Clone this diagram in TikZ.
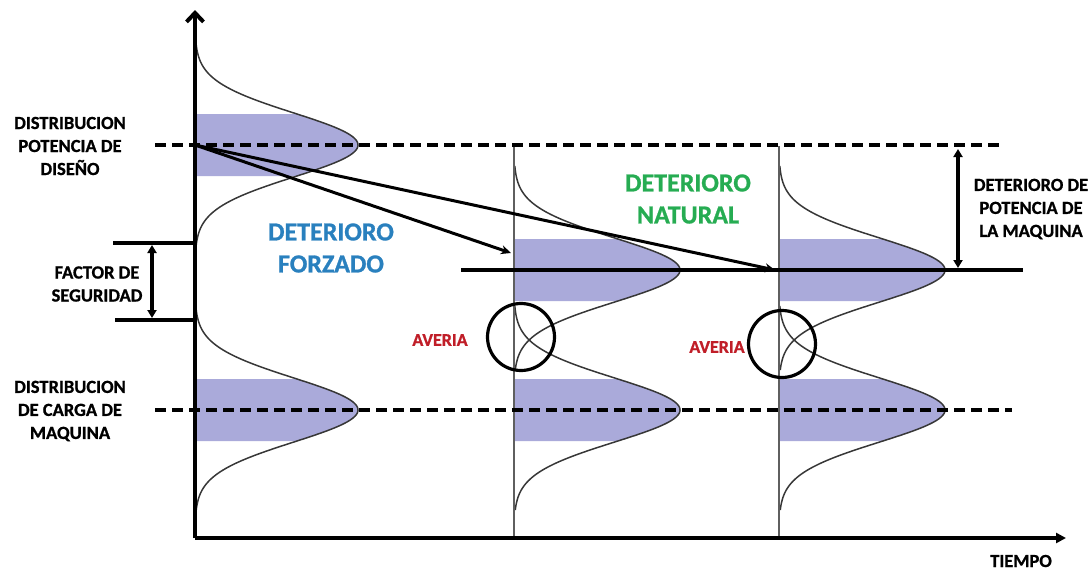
\documentclass[tikz,border=0pt]{standalone}
\usepackage{fontspec}
\setmainfont{Carlito}[BoldFont={Carlito Bold},BoldFeatures={FakeBold=1}]
\usetikzlibrary{arrows.meta}

\definecolor{bandfill}{RGB}{170,170,218}
\definecolor{curveline}{RGB}{55,55,55}
\definecolor{axisgray}{RGB}{95,95,95}
\definecolor{forcedblue}{RGB}{41,128,190}
\definecolor{naturalgreen}{RGB}{38,172,82}
\definecolor{failred}{RGB}{192,30,40}

% bell curve standing on a vertical time axis:
% #1 = x of the axis, #2 = y of the mean, #3 = height of the peak
\newcommand\bellcurve[3]{%
  \fill[bandfill] (#1,#2-31)
    -- plot[domain=-31:31,samples=50] ({#1+#3*exp(-((\x)*(\x))/2048)},{#2+(\x)})
    -- (#1,#2+31) -- cycle;
  \draw[curve] plot[domain=-104:100,samples=140] ({#1+#3*exp(-((\x)*(\x))/2048)},{#2+(\x)});
}

\begin{document}
\begin{tikzpicture}[x=1pt,y=-1pt,
  curve/.style={curveline,line width=1.5pt},
  mainaxis/.style={black,line width=4pt},
  timeaxis/.style={axisgray,line width=1.4pt},
  meanline/.style={black,line width=3.2pt,dash pattern=on 11pt off 6pt},
  refline/.style={black,line width=3.2pt},
  dimarrow/.style={black,line width=3.2pt,{Triangle[length=8pt,width=9pt]}-{Triangle[length=8pt,width=9pt]}},
  driftarrow/.style={black,line width=3pt,-{Stealth[length=10pt,width=9pt]}},
  failcircle/.style={draw=black,line width=3.2pt,circle,minimum size=67pt,inner sep=0pt},
  caption/.style={font=\fontsize{18.5}{23}\selectfont\bfseries,align=center,text=black,inner sep=0pt},
  bigcaption/.style={font=\fontsize{26}{32}\selectfont\bfseries,align=center,inner sep=0pt},
  failcaption/.style={font=\fontsize{18}{22}\selectfont\bfseries,text=failred,inner sep=0pt}
]
\useasboundingbox (0,0) rectangle (1092,570);

% distributions
\bellcurve{195}{145}{163}
\bellcurve{195}{410}{163}
\bellcurve{514}{270}{166}
\bellcurve{514}{410}{166}
\bellcurve{779}{270}{166}
\bellcurve{779}{410}{166}

% key points
\coordinate (origin) at (195,538);
\coordinate (ytop) at (195,10);
\coordinate (xend) at (1066,538);
\coordinate (design) at (195,145);
\coordinate (forcedtip) at (511,253);
\coordinate (naturaltip) at (775,270);

% time axes of the later distributions
\draw[timeaxis] (514,146) -- (514,538);
\draw[timeaxis] (779,146) -- (779,538);

% mean lines
\draw[meanline] (155,145) -- (1002,145);
\draw[meanline] (155,410) -- (1012,410);
\draw[refline] (461,270) -- (1023,270);

% main axes
\draw[mainaxis,-{Straight Barb[length=9pt,width=17pt]}] (origin) -- (ytop);
\draw[mainaxis,-{Triangle[length=10pt,width=10pt]}] (origin) -- (xend);

% deterioration arrows
\draw[driftarrow] (design) -- (forcedtip);
\draw[driftarrow] (design) -- (naturaltip);

% safety factor
\coordinate (sfa) at (113,243);
\coordinate (sfb) at (115,320);
\draw[refline] (sfa) -- (195,243);
\draw[refline] (sfb) -- (195,320);
\draw[dimarrow] (152,245) -- (152,318);

% strength loss
\draw[dimarrow] (958,149) -- (958,268);

% failure zones
\node[failcircle] (failA) at (521,337) {};
\node[failcircle] (failB) at (782,344) {};

% labels
\node[caption] (lblDesign) at (70,146) {DISTRIBUCION\\POTENCIA DE\\DISEÑO};
\node[caption] (lblLoad) at (70,411) {DISTRIBUCION\\DE CARGA DE\\MAQUINA};
\node[caption] (lblSafety) at (97,284) {FACTOR DE\\SEGURIDAD};
\node[caption] (lblLoss) at (1031,209) {DETERIORO DE\\POTENCIA DE\\LA MAQUINA};
\node[caption] (lblTime) at (1021,561) {TIEMPO};
\node[bigcaption,text=forcedblue] (lblForced) at (331,248) {DETERIORO\\FORZADO};
\node[bigcaption,text=naturalgreen] (lblNatural) at (688,199) {DETERIORO\\NATURAL};
\node[failcaption] (lblFailA) at (440,340) {AVERIA};
\node[failcaption] (lblFailB) at (717,347) {AVERIA};
\end{tikzpicture}
\end{document}
